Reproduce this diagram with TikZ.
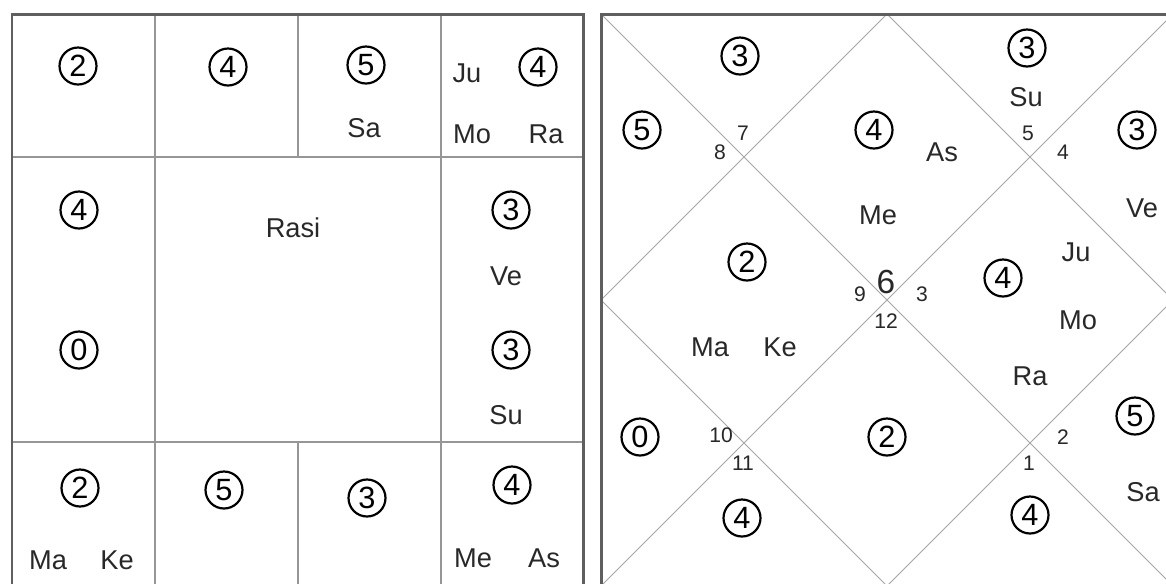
\documentclass[tikz,border=0pt]{standalone}
\usepackage{fontspec}
\setmainfont{Liberation Sans}
\usetikzlibrary{calc, positioning}

\definecolor{gridgray}{RGB}{150,150,150}
\definecolor{framegray}{RGB}{95,95,95}
\definecolor{inkgray}{RGB}{40,40,40}

\tikzset{
    planet/.style={text=inkgray, inner sep=0pt, font=\fontsize{15.5}{16}\selectfont},
    housenum/.style={text=inkgray, inner sep=0pt, font=\fontsize{12}{12}\selectfont},
    strength/.style={circle, draw=black, line width=1.25pt, minimum size=0.74cm,
        inner sep=0pt, font=\fontsize{17.5}{17.5}\selectfont}
}

\begin{document}
\begin{tikzpicture}[x=0.02cm, y=-0.02cm]
                \clip (0,0) rectangle (1166,583);
                \fill[white] (0,0) rectangle (1166,583);

                % 1. Khung Rasi (kieu Nam An)
                \draw[gridgray, line width=0.7pt]
                    (12,157) -- (583,157) (12,442) -- (583,442)
                    (155,14) -- (155,585) (441,14) -- (441,585)
                    (298,14) -- (298,157) (298,442) -- (298,585);
                \draw[framegray, line width=1.7pt] (12,14) rectangle (583,585);
                \node[planet] (rasi) at (293,228) {Rasi};

                % 2. Khung kieu Bac An
                \draw[gridgray!85, line width=0.55pt]
                    (601,14) -- (1173,586) (1173,14) -- (601,586)
                    (887,14) -- (1173,300) -- (887,586) -- (601,300) -- cycle;
                \draw[framegray, line width=1.7pt] (601,14) rectangle (1173,586);

                % 3. So trong vong tron
                \foreach \x/\y/\d [count=\i] in {78/66/2, 228/67/4, 366/65/5, 538/67/4,
                        79/210/4, 79/350/0, 511/210/3, 511/350/3,
                        80/488/2, 224/490/5, 367/498/3, 512/485/4} {
                    \node[strength] (rs\i) at (\x,\y) {\d};
                }
                \foreach \x/\y/\d [count=\i] in {740/56/3, 642/130/5, 874/130/4, 747/262/2,
                        1027/48/3, 1137/130/3, 1003/278/4, 1135/416/5,
                        640/437/0, 742/518/4, 887/437/2, 1030/515/4} {
                    \node[strength] (ns\i) at (\x,\y) {\d};
                }

                % 4. Hanh tinh
                \foreach \x/\y/\t in {364/128/Sa, 467/73/Ju, 472/134/Mo, 546/134/Ra,
                        506/276/Ve, 506/415/Su, 48/560/Ma, 117/560/Ke,
                        473/558/Me, 544/558/As} {
                    \node[planet] (r\t) at (\x,\y) {\t};
                }
                \foreach \x/\y/\t in {942/152/As, 878/215/Me, 1026/97/Su, 1142/208/Ve,
                        1076/252/Ju, 1078/320/Mo, 1030/376/Ra, 1143/492/Sa,
                        710/347/Ma, 780/347/Ke} {
                    \node[planet] (n\t) at (\x,\y) {\t};
                }

                % 5. So nha
                \foreach \x/\y/\h in {743/133/7, 720/152/8, 860/294/9, 922/294/3,
                        886/321/12, 1028/133/5, 1063/152/4, 1063/437/2,
                        1029/463/1, 721/435/10, 743/463/11} {
                    \node[housenum] (h\h) at (\x,\y) {\h};
                }
                \node[planet, font=\fontsize{19}{19}\selectfont] (h6) at (886,282) {6};
\end{tikzpicture}
\end{document}
